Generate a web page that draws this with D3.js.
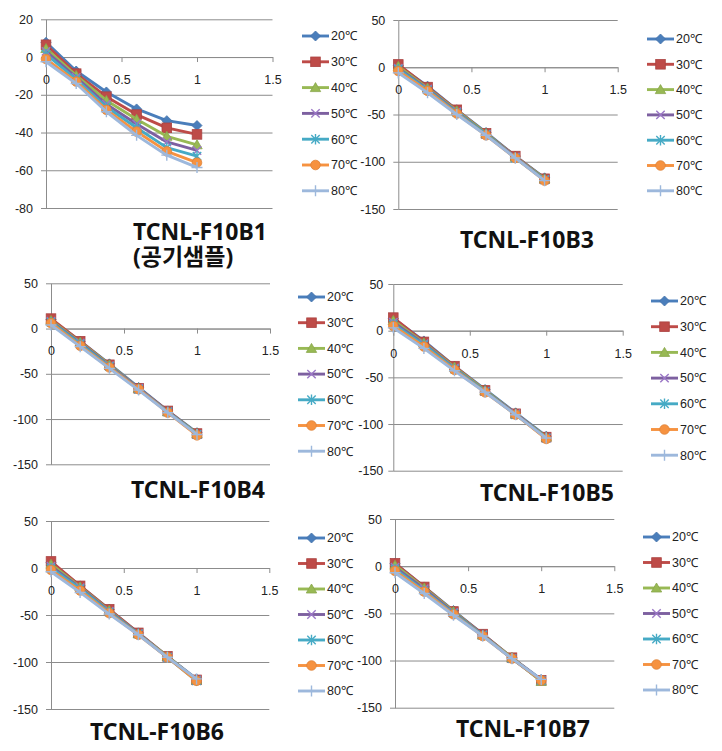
<!DOCTYPE html>
<html><head><meta charset="utf-8">
<script src="https://cdn.jsdelivr.net/npm/d3@7"></script>
<style>body{margin:0;background:#fff} svg{display:block}</style>
</head><body><svg id="c" width="722" height="751"></svg>
<script>
// ---------- data ----------
const xValues = [0, 0.2, 0.4, 0.6, 0.8, 1.0];
const seriesNames = ["20℃", "30℃", "40℃", "50℃", "60℃", "70℃", "80℃"];
const xTicks = [0, 0.5, 1, 1.5];
const yTicksB1 = [20, 0, -20, -40, -60, -80];
const yTicksOther = [50, 0, -50, -100, -150];

const dataB1 = [
  [7.8, -7.4, -18.5, -27.5, -33.7, -36.3],
  [6.5, -8.8, -21, -30.5, -37.5, -41],
  [4.5, -9.8, -23, -33, -42, -46.5],
  [3, -10.8, -25, -35.5, -45, -49.5],
  [1.5, -11.8, -26.5, -37.5, -48, -52.5],
  [-1, -13, -28, -39.5, -50, -56],
  [-2.5, -14, -29, -41.5, -52, -58.5]
];
const dataB3 = [
  [2, -20, -45, -69, -94, -117],
  [3, -21, -45, -70, -94, -118],
  [1, -22, -46, -70, -95, -118],
  [-1, -23, -47, -71, -95, -119],
  [-2, -24, -48, -71, -96, -119],
  [-4, -25, -49, -72, -96, -120],
  [-6, -27, -50, -72, -96, -120]
];
const dataB4 = [
  [10, -14, -39, -65, -91, -115],
  [11, -14, -40, -66, -91, -116],
  [9, -15, -40, -66, -92, -116],
  [8, -16, -41, -66, -92, -117],
  [7, -17, -42, -67, -92, -117],
  [6, -19, -43, -67, -93, -118],
  [4, -20, -44, -68, -93, -117]
];
const dataB5 = [
  [13, -11, -38, -63, -88, -113],
  [14, -12, -38, -64, -89, -114],
  [11, -13, -39, -64, -89, -114],
  [9, -14, -40, -65, -89, -115],
  [7, -15, -41, -65, -90, -115],
  [5, -17, -42, -66, -90, -116],
  [3, -19, -43, -66, -90, -115]
];
const dataB6 = [
  [6, -19, -44, -69, -94, -118],
  [7, -19, -44, -69, -94, -119],
  [4, -20, -45, -70, -94, -119],
  [2, -21, -46, -70, -95, -119],
  [0, -22, -47, -70, -95, -120],
  [-2, -24, -48, -71, -95, -120],
  [-4, -26, -49, -71, -95, -118]
];
const dataB7 = [
  [3, -22, -47, -72, -97, -120],
  [3, -22, -48, -72, -97, -121],
  [1, -23, -48, -73, -97, -122],
  [-1, -24, -49, -73, -98, -121],
  [-3, -26, -50, -73, -98, -121],
  [-5, -27, -51, -74, -98, -121],
  [-7, -29, -52, -74, -98, -120]
];

// ---------- styles ----------
const colors = ["#4A7EBB", "#BE4B48", "#98B954", "#7D60A0", "#46AAC5", "#F69240", "#9DB8DC"];
const markerTypes = ["diamond", "square", "triangle", "x", "star", "circle", "plus"];
const FONT = "'Liberation Sans', Arial, sans-serif";
const TITLE_FONT = "'Noto Sans', 'Noto Sans CJK KR', sans-serif";

// ---------- layout ----------
const panels = [
  {title: ["TCNL-F10B1", "(공기샘플)"], data: dataB1, yDomain: [-80, 20], yTicks: yTicksB1,
   x0: 46, x1: 272.5, yTop: 19.3, yBot: 208, gap: 8, legX: 302, legY: 36, legStep: 25.8,
   titleX: 133, titleY: 240, anchor: "start"},
  {title: ["TCNL-F10B3"], data: dataB3, yDomain: [-150, 50], yTicks: yTicksOther,
   x0: 398.3, x1: 617.7, yTop: 20, yBot: 209, gap: 8, legX: 647, legY: 39, legStep: 25.3,
   titleX: 527, titleY: 248, anchor: "middle"},
  {title: ["TCNL-F10B4"], data: dataB4, yDomain: [-150, 50], yTicks: yTicksOther,
   x0: 51, x1: 270, yTop: 283.3, yBot: 464.3, gap: 8, legX: 298, legY: 297, legStep: 25.7,
   titleX: 198, titleY: 498, anchor: "middle"},
  {title: ["TCNL-F10B5"], data: dataB5, yDomain: [-150, 50], yTicks: yTicksOther,
   x0: 393.3, x1: 622.7, yTop: 284, yBot: 470.7, gap: 5, legX: 651, legY: 301, legStep: 25.7,
   titleX: 547, titleY: 501, anchor: "middle"},
  {title: ["TCNL-F10B6"], data: dataB6, yDomain: [-150, 50], yTicks: yTicksOther,
   x0: 51, x1: 269.3, yTop: 521, yBot: 709, gap: 8, legX: 298, legY: 538, legStep: 25.5,
   titleX: 157, titleY: 740, anchor: "middle"},
  {title: ["TCNL-F10B7"], data: dataB7, yDomain: [-150, 50], yTicks: yTicksOther,
   x0: 395, x1: 614.3, yTop: 519, yBot: 707.7, gap: 8, legX: 643, legY: 537, legStep: 25.5,
   titleX: 523, titleY: 737, anchor: "middle"}
];

const svg = d3.select("#c");
svg.append("rect").attr("width", 722).attr("height", 751).attr("fill", "#fff");

function drawMarker(g, type, color, cx, cy) {
  const m = g.append("g").attr("transform", `translate(${cx},${cy})`);
  const dark = d3.color(color).darker(0.3).formatHex();
  switch (type) {
    case "diamond":
      m.append("path").attr("d", "M0,-5L5,0L0,5L-5,0Z").attr("fill", color).attr("stroke", dark).attr("stroke-width", 0.8); break;
    case "square":
      m.append("rect").attr("x", -4.8).attr("y", -4.8).attr("width", 9.6).attr("height", 9.6).attr("fill", color).attr("stroke", dark).attr("stroke-width", 0.8); break;
    case "triangle":
      m.append("path").attr("d", "M0,-5L5.2,4L-5.2,4Z").attr("fill", color).attr("stroke", dark).attr("stroke-width", 0.8); break;
    case "x":
      m.append("path").attr("d", "M-4.2,-4.2L4.2,4.2M-4.2,4.2L4.2,-4.2").attr("stroke", d3.color(color).brighter(0.6).formatHex()).attr("stroke-width", 1.4).attr("fill", "none"); break;
    case "star":
      m.append("path").attr("d", "M-4.2,-4.2L4.2,4.2M-4.2,4.2L4.2,-4.2M0,-5.2L0,5.2").attr("stroke", color).attr("stroke-width", 1.4).attr("fill", "none"); break;
    case "circle":
      m.append("circle").attr("r", 4.8).attr("fill", color).attr("stroke", dark).attr("stroke-width", 0.8); break;
    case "plus":
      m.append("path").attr("d", "M-5.5,0L5.5,0M0,-5.5L0,5.5").attr("stroke", color).attr("stroke-width", 1.4).attr("fill", "none"); break;
  }
}

panels.forEach(p => {
  const g = svg.append("g");
  const x = d3.scaleLinear().domain([0, 1.5]).range([p.x0, p.x1]);
  const y = d3.scaleLinear().domain(p.yDomain).range([p.yBot, p.yTop]);

  // gridlines
  g.append("g").attr("transform", `translate(${p.x0},0)`)
    .call(d3.axisLeft(y).tickValues(p.yTicks).tickSize(-(p.x1 - p.x0)).tickFormat(""))
    .call(a => a.select(".domain").remove())
    .call(a => a.selectAll("line").attr("stroke", "#8c8c8c").attr("stroke-width", 1));

  // y axis
  g.append("g").attr("transform", `translate(${p.x0},0)`)
    .call(d3.axisLeft(y).tickValues(p.yTicks).tickSizeInner(5).tickSizeOuter(0).tickPadding(p.gap).tickFormat(d3.format("d")))
    .call(a => a.select(".domain").attr("stroke", "#8c8c8c"))
    .call(a => a.selectAll("line").attr("stroke", "#8c8c8c"))
    .call(a => a.selectAll("text").attr("font-family", FONT).attr("font-size", 12.5).attr("fill", "#222").text(d => d < 0 ? "-" + Math.abs(d) : d));

  // x axis at y=0
  g.append("g").attr("transform", `translate(0,${y(0)})`)
    .call(d3.axisBottom(x).tickValues(xTicks).tickSizeInner(5).tickSizeOuter(0).tickPadding(13).tickFormat(d => String(d)))
    .call(a => a.select(".domain").attr("stroke", "#8c8c8c"))
    .call(a => a.selectAll("line").attr("stroke", "#8c8c8c"))
    .call(a => a.selectAll("text").attr("font-family", FONT).attr("font-size", 12.5).attr("fill", "#222"));

  // series
  const line = d3.line().x((d, i) => x(xValues[i])).y(d => y(d));
  p.data.forEach((vals, s) => {
    g.append("path").datum(vals).attr("d", line).attr("fill", "none")
      .attr("stroke", colors[s]).attr("stroke-width", 2.9).attr("stroke-linejoin", "round");
    vals.forEach((v, i) => drawMarker(g, markerTypes[s], colors[s], x(xValues[i]), y(v)));
  });

  // legend
  seriesNames.forEach((name, s) => {
    const ly = p.legY + s * p.legStep;
    g.append("line").attr("x1", p.legX).attr("x2", p.legX + 27).attr("y1", ly).attr("y2", ly)
      .attr("stroke", colors[s]).attr("stroke-width", 2.9);
    drawMarker(g, markerTypes[s], colors[s], p.legX + 13.5, ly);
    g.append("text").attr("x", p.legX + 29).attr("y", ly).attr("dy", "0.35em")
      .attr("font-family", FONT).attr("font-size", 12.5).attr("fill", "#222").text(name);
  });

  // title (one text element, lines as tspans)
  const tt = g.append("text").attr("x", p.titleX).attr("y", p.titleY)
    .attr("text-anchor", p.anchor).attr("font-family", TITLE_FONT)
    .attr("font-weight", "bold").attr("font-size", 23).attr("fill", "#111");
  p.title.forEach((t, k) => {
    tt.append("tspan").attr("x", p.titleX).attr("dy", k === 0 ? 0 : 25).text(t);
  });
});
</script></body></html>
